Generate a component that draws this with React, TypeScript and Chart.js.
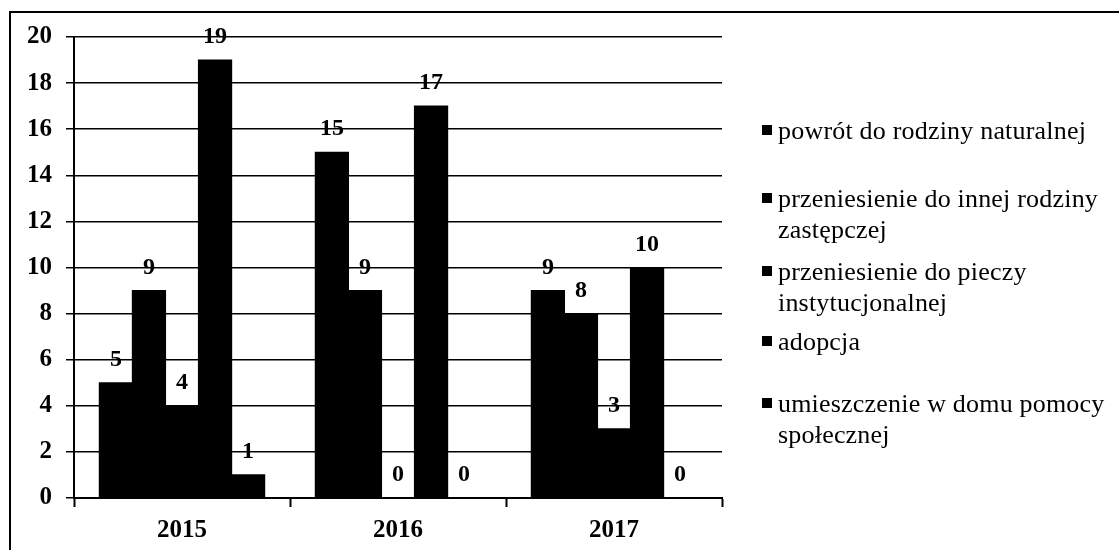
import React, { useEffect, useRef } from "react";
import { Chart, registerables } from "chart.js";

Chart.register(...registerables);

const categories = ["2015", "2016", "2017"];
const powrot = [5, 15, 9];
const innaRodzina = [9, 9, 8];
const piecza = [4, 0, 3];
const adopcja = [19, 17, 10];
const dps = [1, 0, 0];
const seriesValues = [powrot, innaRodzina, piecza, adopcja, dps];
const seriesLabels = [
  ["powrót do rodziny naturalnej"],
  ["przeniesienie do innej rodziny", "zastępczej"],
  ["przeniesienie do pieczy", "instytucjonalnej"],
  ["adopcja"],
  ["umieszczenie w domu pomocy", "społecznej"],
];
const yTicks = [0, 2, 4, 6, 8, 10, 12, 14, 16, 18, 20];

const SERIF = "'Liberation Serif', 'Times New Roman', serif";

const framePlugin = {
  id: "frame",
  beforeDraw(chart: any) {
    const ctx = chart.ctx;
    ctx.save();
    ctx.fillStyle = "#fff";
    ctx.fillRect(0, 0, chart.width, chart.height);
    ctx.strokeStyle = "#000";
    ctx.lineWidth = 2;
    ctx.beginPath();
    ctx.moveTo(10, chart.height + 5);
    ctx.lineTo(10, 12);
    ctx.lineTo(chart.width + 5, 12);
    ctx.stroke();
    ctx.restore();
  },
};

const valueLabelPlugin = {
  id: "valueLabels",
  afterDatasetsDraw(chart: any) {
    const ctx = chart.ctx;
    ctx.save();
    ctx.font = `bold 24px ${SERIF}`;
    ctx.fillStyle = "#000";
    ctx.textAlign = "center";
    ctx.textBaseline = "alphabetic";
    chart.data.datasets.forEach((ds: any, i: number) => {
      const meta = chart.getDatasetMeta(i);
      meta.data.forEach((el: any, j: number) => {
        ctx.fillText(String(ds.data[j]), el.x, el.y - 17);
      });
    });
    ctx.restore();
  },
};

const legendPlugin = {
  id: "sideLegend",
  afterDraw(chart: any) {
    const ctx = chart.ctx;
    const baselines = [139, 207, 280, 350, 412];
    const lineGap = 31;
    const markerX = 762;
    const textX = 778;
    ctx.save();
    ctx.font = `26px ${SERIF}`;
    ctx.fillStyle = "#000";
    ctx.textAlign = "left";
    ctx.textBaseline = "alphabetic";
    try {
      (ctx as any).letterSpacing = "0.2px";
    } catch (e) {}
    chart.data.datasets.forEach((ds: any, i: number) => {
      const b = baselines[i];
      ctx.fillStyle = ds.backgroundColor;
      ctx.fillRect(markerX, b - 14, 10, 10);
      ctx.fillStyle = "#000";
      seriesLabels[i].forEach((line, k) => {
        ctx.fillText(line, textX, b + k * lineGap);
      });
    });
    ctx.restore();
  },
};

export default function App() {
  const ref = useRef<HTMLCanvasElement | null>(null);

  useEffect(() => {
    if (!ref.current) return;
    const chart = new Chart(ref.current, {
      type: "bar",
      data: {
        labels: categories,
        datasets: seriesValues.map((vals, i) => ({
          label: seriesLabels[i].join(" "),
          data: vals,
          backgroundColor: "#000",
          borderWidth: 0,
          inflateAmount: 0.6,
          categoryPercentage: 0.765,
          barPercentage: 1,
        })),
      },
      options: {
        responsive: false,
        animation: false,
        devicePixelRatio: 1,
        layout: { padding: { left: 0, right: 397, top: 37, bottom: 0 } },
        plugins: {
          legend: { display: false },
          tooltip: { enabled: false },
        },
        scales: {
          x: {
            afterFit: (s: any) => {
              s.height = 52;
            },
            grid: {
              offset: true,
              drawOnChartArea: false,
              drawTicks: true,
              tickLength: 9,
              tickColor: "#000",
              tickWidth: 2,
            },
            border: { display: true, color: "#000", width: 2 },
            ticks: {
              color: "#000",
              padding: 9,
              font: { family: SERIF, size: 25, weight: "bold" },
            },
          },
          y: {
            min: 0,
            max: 20,
            afterFit: (s: any) => {
              s.width = 74;
            },
            afterBuildTicks: (s: any) => {
              s.ticks = yTicks.map((v) => ({ value: v }));
            },
            grid: {
              color: "#000",
              lineWidth: 1.5,
              drawTicks: true,
              tickLength: 8,
              tickColor: "#000",
            },
            border: { display: true, color: "#000", width: 2 },
            ticks: {
              color: "#000",
              padding: 14,
              font: { family: SERIF, size: 25, weight: "bold" },
            },
          },
        },
      },
      plugins: [framePlugin, valueLabelPlugin, legendPlugin],
    });
    return () => chart.destroy();
  }, []);

  return (
    <canvas
      ref={ref}
      width={1119}
      height={550}
      style={{ position: "fixed", left: 0, top: 0, width: 1119, height: 550, display: "block" }}
    />
  );
}
